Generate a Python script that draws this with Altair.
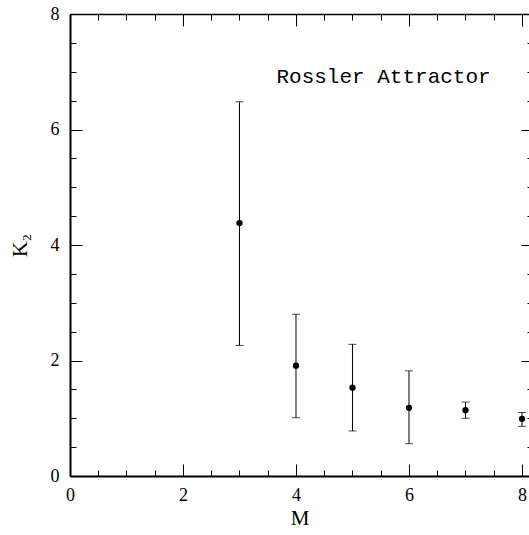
import altair as alt
import pandas as pd

# ---- data ----
M = [3, 4, 5, 6, 7, 8]
K2 = [4.38, 1.91, 1.53, 1.18, 1.14, 0.99]
K2_lo = [2.26, 1.01, 0.78, 0.56, 1.00, 0.86]
K2_hi = [6.48, 2.80, 2.28, 1.82, 1.28, 1.10]

x_major = [0, 2, 4, 6, 8]
x_minor = [0.5, 1, 1.5, 2.5, 3, 3.5, 4.5, 5, 5.5, 6.5, 7, 7.5]
y_major = [0, 2, 4, 6, 8]
y_minor = [0.5, 1, 1.5, 2.5, 3, 3.5, 4.5, 5, 5.5, 6.5, 7, 7.5]

title_text = ["Rossler Attractor"]
title_M = [5.55]
title_K = [6.8]

df = pd.DataFrame({"M": M, "K2": K2, "lo": K2_lo, "hi": K2_hi})
df_title = pd.DataFrame({"M": title_M, "K2": title_K, "t": title_text})

FONT = "Liberation Serif"
xs = alt.Scale(domain=[0, 8.124], nice=False, zero=False)
ys = alt.Scale(domain=[0, 8], nice=False, zero=False)


def axis(orient, values, size, labels=False, title=None, offset=0,
         domain=True, domain_width=1.3, label_pad=0, title_pad=0, title_size=21):
    kw = dict(
        orient=orient, values=values, tickSize={"expr": str(-size)},
        tickColor="black", tickWidth=1, grid=False,
        domain=domain, domainColor="black", domainWidth=domain_width,
        labels=labels, offset=offset,
    )
    if labels:
        kw.update(labelFont=FONT, labelFontSize=18, labelColor="black",
                  labelPadding=label_pad, labelOverlap=False, labelFlush=False)
    if title is not None:
        kw.update(title=title, titleFont=FONT, titleFontSize=title_size,
                  titleFontWeight="normal", titleColor="black",
                  titlePadding=title_pad)
    else:
        kw.update(title=None)
    return alt.Axis(**kw)


base = alt.Chart(df)

# main layer: points with bottom/left major axes (labels + titles)
points = base.mark_point(filled=True, color="black", size=40, opacity=1).encode(
    x=alt.X("M:Q", scale=xs,
            axis=axis("bottom", x_major, 12, labels=True, title="M",
                      domain_width=2, label_pad=22, title_pad=3)),
    y=alt.Y("K2:Q", scale=ys,
            axis=axis("left", y_major, 12, labels=True, title="K₂",
                      domain_width=2, label_pad=23, title_pad=19, title_size=22)),
)

bars = base.mark_rule(color="black", strokeWidth=1).encode(
    x=alt.X("M:Q", scale=xs, axis=axis("bottom", x_minor, 6, domain=False)),
    y=alt.Y("lo:Q", scale=ys, axis=axis("left", y_minor, 6, domain=False)),
    y2="hi:Q",
)

cap_lo = base.mark_tick(color="black", orient="horizontal", size=8, thickness=1).encode(
    x=alt.X("M:Q", scale=xs, axis=axis("top", x_major, 12, domain_width=1.3)),
    y=alt.Y("lo:Q", scale=ys, axis=axis("right", y_major, 12, offset=4, domain=False)),
)

cap_hi = base.mark_tick(color="black", orient="horizontal", size=8, thickness=1).encode(
    x=alt.X("M:Q", scale=xs, axis=axis("top", x_minor, 6, domain=False)),
    y=alt.Y("hi:Q", scale=ys, axis=axis("right", y_minor, 6, offset=4, domain=False)),
)

label = alt.Chart(df_title).mark_text(
    font="Liberation Mono", fontSize=21, color="black",
    align="center", baseline="alphabetic",
).encode(
    x=alt.X("M:Q", scale=xs, axis=None),
    y=alt.Y("K2:Q", scale=ys, axis=None),
    text="t:N",
)

chart = (
    alt.layer(bars, cap_lo, cap_hi, points, label)
    .resolve_axis(x="independent", y="independent")
    .properties(
        width=459, height=462,
        autosize=alt.AutoSizeParams(type="none"),
        padding={"left": 70, "top": 14, "right": 0, "bottom": 59},
        background="white",
    )
    .configure_view(stroke="transparent")
)

chart.save("out.html", embed_options={"renderer": "svg", "actions": False})
